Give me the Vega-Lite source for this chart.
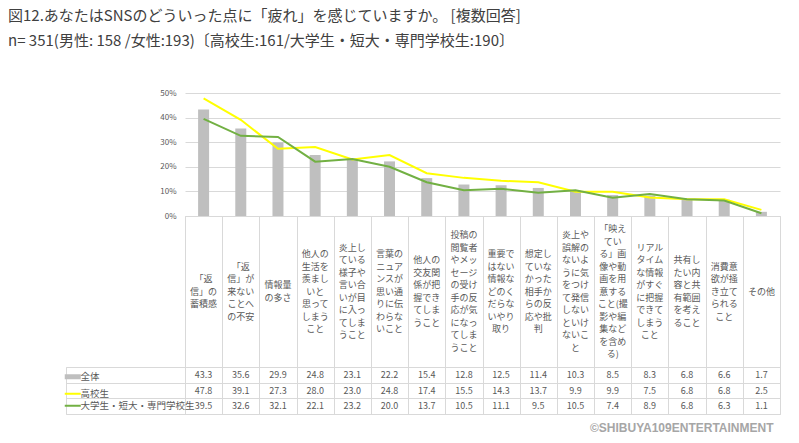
{
  "$schema": "https://vega.github.io/schema/vega-lite/v6.json",
  "padding": {"left": 8, "top": 8, "right": 5, "bottom": 5},
  "background": "white",
  "title": {
    "text": ["図12.あなたはSNSのどういった点に「疲れ」を感じていますか。 [複数回答]", "n= 351(男性: 158 /女性:193)〔高校生:161/大学生・短大・専門学校生:190〕"],
    "anchor": "start", "frame": "group", "dx": -58, "fontSize": 15, "fontWeight": "normal",
    "color": "#404040", "lineHeight": 25, "offset": 39, "font": "Noto Sans CJK JP"
  },
  "config": {"view": {"stroke": null}, "font": "Noto Sans CJK JP"},
  "datasets": {
    "d": [
      {"c": "「返\n信」の\n蓄積感", "s": "全体", "v": 43.3},
      {"c": "「返\n信」が\n来ない\nことへ\nの不安", "s": "全体", "v": 35.6},
      {"c": "情報量\nの多さ", "s": "全体", "v": 29.9},
      {"c": "他人の\n生活を\n羨まし\nいと\n思って\nしまう\nこと", "s": "全体", "v": 24.8},
      {"c": "炎上し\nている\n様子や\n言い合\nいが目\nに入っ\nてしま\nうこと", "s": "全体", "v": 23.1},
      {"c": "言葉の\nニュア\nンスが\n思い通\nりに伝\nわらな\nいこと", "s": "全体", "v": 22.2},
      {"c": "他人の\n交友関\n係が把\n握でき\nてしま\nうこと", "s": "全体", "v": 15.4},
      {"c": "投稿の\n閲覧者\nやメッ\nセージ\nの受け\n手の反\n応が気\nになっ\nてしま\nうこと", "s": "全体", "v": 12.8},
      {"c": "重要で\nはない\n情報な\nどのく\nだらな\nいやり\n取り", "s": "全体", "v": 12.5},
      {"c": "想定し\nていな\nかった\n相手か\nらの反\n応や批\n判", "s": "全体", "v": 11.4},
      {"c": "炎上や\n誤解の\nないよ\nうに気\nをつけ\nて発信\nしない\nといけ\nないこ\nと", "s": "全体", "v": 10.3},
      {"c": "「映え\nてい\nる」画\n像や動\n画を用\n意する\nこと(撮\n影や編\n集など\nを含め\nる)", "s": "全体", "v": 8.5},
      {"c": "リアル\nタイム\nな情報\nがすぐ\nに把握\nできて\nしまう\nこと", "s": "全体", "v": 8.3},
      {"c": "共有し\nたい内\n容と共\n有範囲\nを考え\nること", "s": "全体", "v": 6.8},
      {"c": "消費意\n欲が掻\nき立て\nられる\nこと", "s": "全体", "v": 6.6},
      {"c": "その他", "s": "全体", "v": 1.7},
      {"c": "「返\n信」の\n蓄積感", "s": "高校生", "v": 47.8},
      {"c": "「返\n信」が\n来ない\nことへ\nの不安", "s": "高校生", "v": 39.1},
      {"c": "情報量\nの多さ", "s": "高校生", "v": 27.3},
      {"c": "他人の\n生活を\n羨まし\nいと\n思って\nしまう\nこと", "s": "高校生", "v": 28.0},
      {"c": "炎上し\nている\n様子や\n言い合\nいが目\nに入っ\nてしま\nうこと", "s": "高校生", "v": 23.0},
      {"c": "言葉の\nニュア\nンスが\n思い通\nりに伝\nわらな\nいこと", "s": "高校生", "v": 24.8},
      {"c": "他人の\n交友関\n係が把\n握でき\nてしま\nうこと", "s": "高校生", "v": 17.4},
      {"c": "投稿の\n閲覧者\nやメッ\nセージ\nの受け\n手の反\n応が気\nになっ\nてしま\nうこと", "s": "高校生", "v": 15.5},
      {"c": "重要で\nはない\n情報な\nどのく\nだらな\nいやり\n取り", "s": "高校生", "v": 14.3},
      {"c": "想定し\nていな\nかった\n相手か\nらの反\n応や批\n判", "s": "高校生", "v": 13.7},
      {"c": "炎上や\n誤解の\nないよ\nうに気\nをつけ\nて発信\nしない\nといけ\nないこ\nと", "s": "高校生", "v": 9.9},
      {"c": "「映え\nてい\nる」画\n像や動\n画を用\n意する\nこと(撮\n影や編\n集など\nを含め\nる)", "s": "高校生", "v": 9.9},
      {"c": "リアル\nタイム\nな情報\nがすぐ\nに把握\nできて\nしまう\nこと", "s": "高校生", "v": 7.5},
      {"c": "共有し\nたい内\n容と共\n有範囲\nを考え\nること", "s": "高校生", "v": 6.8},
      {"c": "消費意\n欲が掻\nき立て\nられる\nこと", "s": "高校生", "v": 6.8},
      {"c": "その他", "s": "高校生", "v": 2.5},
      {"c": "「返\n信」の\n蓄積感", "s": "大学生・短大・専門学校生", "v": 39.5},
      {"c": "「返\n信」が\n来ない\nことへ\nの不安", "s": "大学生・短大・専門学校生", "v": 32.6},
      {"c": "情報量\nの多さ", "s": "大学生・短大・専門学校生", "v": 32.1},
      {"c": "他人の\n生活を\n羨まし\nいと\n思って\nしまう\nこと", "s": "大学生・短大・専門学校生", "v": 22.1},
      {"c": "炎上し\nている\n様子や\n言い合\nいが目\nに入っ\nてしま\nうこと", "s": "大学生・短大・専門学校生", "v": 23.2},
      {"c": "言葉の\nニュア\nンスが\n思い通\nりに伝\nわらな\nいこと", "s": "大学生・短大・専門学校生", "v": 20.0},
      {"c": "他人の\n交友関\n係が把\n握でき\nてしま\nうこと", "s": "大学生・短大・専門学校生", "v": 13.7},
      {"c": "投稿の\n閲覧者\nやメッ\nセージ\nの受け\n手の反\n応が気\nになっ\nてしま\nうこと", "s": "大学生・短大・専門学校生", "v": 10.5},
      {"c": "重要で\nはない\n情報な\nどのく\nだらな\nいやり\n取り", "s": "大学生・短大・専門学校生", "v": 11.1},
      {"c": "想定し\nていな\nかった\n相手か\nらの反\n応や批\n判", "s": "大学生・短大・専門学校生", "v": 9.5},
      {"c": "炎上や\n誤解の\nないよ\nうに気\nをつけ\nて発信\nしない\nといけ\nないこ\nと", "s": "大学生・短大・専門学校生", "v": 10.5},
      {"c": "「映え\nてい\nる」画\n像や動\n画を用\n意する\nこと(撮\n影や編\n集など\nを含め\nる)", "s": "大学生・短大・専門学校生", "v": 7.4},
      {"c": "リアル\nタイム\nな情報\nがすぐ\nに把握\nできて\nしまう\nこと", "s": "大学生・短大・専門学校生", "v": 8.9},
      {"c": "共有し\nたい内\n容と共\n有範囲\nを考え\nること", "s": "大学生・短大・専門学校生", "v": 6.8},
      {"c": "消費意\n欲が掻\nき立て\nられる\nこと", "s": "大学生・短大・専門学校生", "v": 6.3},
      {"c": "その他", "s": "大学生・短大・専門学校生", "v": 1.1}
    ]
  },
  "columns": 2,
  "spacing": 0,
  "bounds": "flush",
  "concat": [
    {
      "width": 119, "height": 1,
      "data": {"values": [{}]},
      "mark": "text",
      "encoding": {"text": {"value": ""}}
    },
    {
      "width": 595, "height": 123,
      "data": {"name": "d"},
      "encoding": {
        "x": {"field": "c", "type": "nominal", "sort": null, "axis": null, "scale": {"paddingInner": 0, "paddingOuter": 0}},
        "y": {"field": "v", "type": "quantitative", "scale": {"domain": [0, 50]},
          "axis": {"values": [0, 10, 20, 30, 40, 50], "labelExpr": "datum.value + '%'", "domain": false, "ticks": false,
            "labelFontSize": 8, "labelColor": "#595959", "labelPadding": 9, "gridColor": "#d9d9d9", "title": null}},
        "color": {"field": "s", "type": "nominal",
          "scale": {"domain": ["全体", "高校生", "大学生・短大・専門学校生"], "range": ["#bfbfbf", "#ffff00", "#72b043"]},
          "legend": {"orient": "none", "legendX": 2, "legendY": 279, "title": null, "symbolType": "stroke",
            "symbolSize": 256, "labelFontSize": 9.5, "labelColor": "#595959", "labelOffset": 3, "rowPadding": 1,
            "padding": 0, "symbolStrokeWidth": 2,
            "encode": {"symbols": {"update": {"strokeWidth": {"signal": "datum.value === '全体' ? 5 : 2"}}}}}}
      },
      "layer": [
        {"transform": [{"filter": "datum.s === '全体'"}], "mark": {"type": "bar", "width": 11}},
        {"transform": [{"filter": "datum.s !== '全体'"}], "mark": {"type": "line", "strokeWidth": 2}}
      ]
    },
    {
      "width": 119, "height": 1,
      "data": {"values": [{}]},
      "mark": "text",
      "encoding": {"text": {"value": ""}}
    },
    {
      "width": 595, "height": 151,
      "data": {"name": "d"},
      "transform": [{"filter": "datum.s === '全体'"}, {"calculate": "length(split(datum.c, '\\n'))", "as": "nl"}],
      "view": {"stroke": "#d9d9d9"},
      "mark": {"type": "text", "lineBreak": "\n", "fontSize": 9, "lineHeight": 12.5, "color": "#595959", "baseline": "middle"},
      "encoding": {
        "x": {"field": "c", "type": "nominal", "sort": null, "scale": {"paddingInner": 0, "paddingOuter": 0},
          "axis": {"labels": false, "ticks": false, "domain": false, "title": null, "grid": true, "tickBand": "extent", "gridColor": "#d9d9d9"}},
        "y": {"field": "nl", "type": "quantitative", "scale": {"domain": [-11.08, 13.08]}, "axis": null},
        "text": {"field": "c"}
      }
    },
    {
      "width": 119, "height": 47,
      "data": {"name": "d"},
      "transform": [{"filter": "datum.c === 'その他'"}],
      "view": {"stroke": "#d9d9d9"},
      "mark": "text",
      "encoding": {
        "y": {"field": "s", "type": "nominal", "sort": null,
          "axis": {"labels": false, "ticks": false, "domain": false, "title": null, "grid": true, "tickBand": "extent", "gridColor": "#d9d9d9"}},
        "text": {"value": ""}
      }
    },
    {
      "width": 595, "height": 47,
      "data": {"name": "d"},
      "view": {"stroke": "#d9d9d9"},
      "mark": {"type": "text", "fontSize": 9, "color": "#595959"},
      "encoding": {
        "x": {"field": "c", "type": "nominal", "sort": null, "scale": {"paddingInner": 0, "paddingOuter": 0},
          "axis": {"labels": false, "ticks": false, "domain": false, "grid": true, "tickBand": "extent", "gridColor": "#d9d9d9",
            "title": "©SHIBUYA109ENTERTAINMENT", "titleAnchor": "end", "titleAlign": "right", "titleX": 588, "titleFontSize": 12, "titleFontWeight": "bold",
            "titleColor": "#a6a6a6", "titleFont": "Liberation Sans", "titlePadding": 8}},
        "y": {"field": "s", "type": "nominal", "sort": null,
          "axis": {"labels": false, "ticks": false, "domain": false, "title": null, "grid": true, "tickBand": "extent", "gridColor": "#d9d9d9"}},
        "text": {"field": "v", "format": ".1f"}
      }
    }
  ]
}
